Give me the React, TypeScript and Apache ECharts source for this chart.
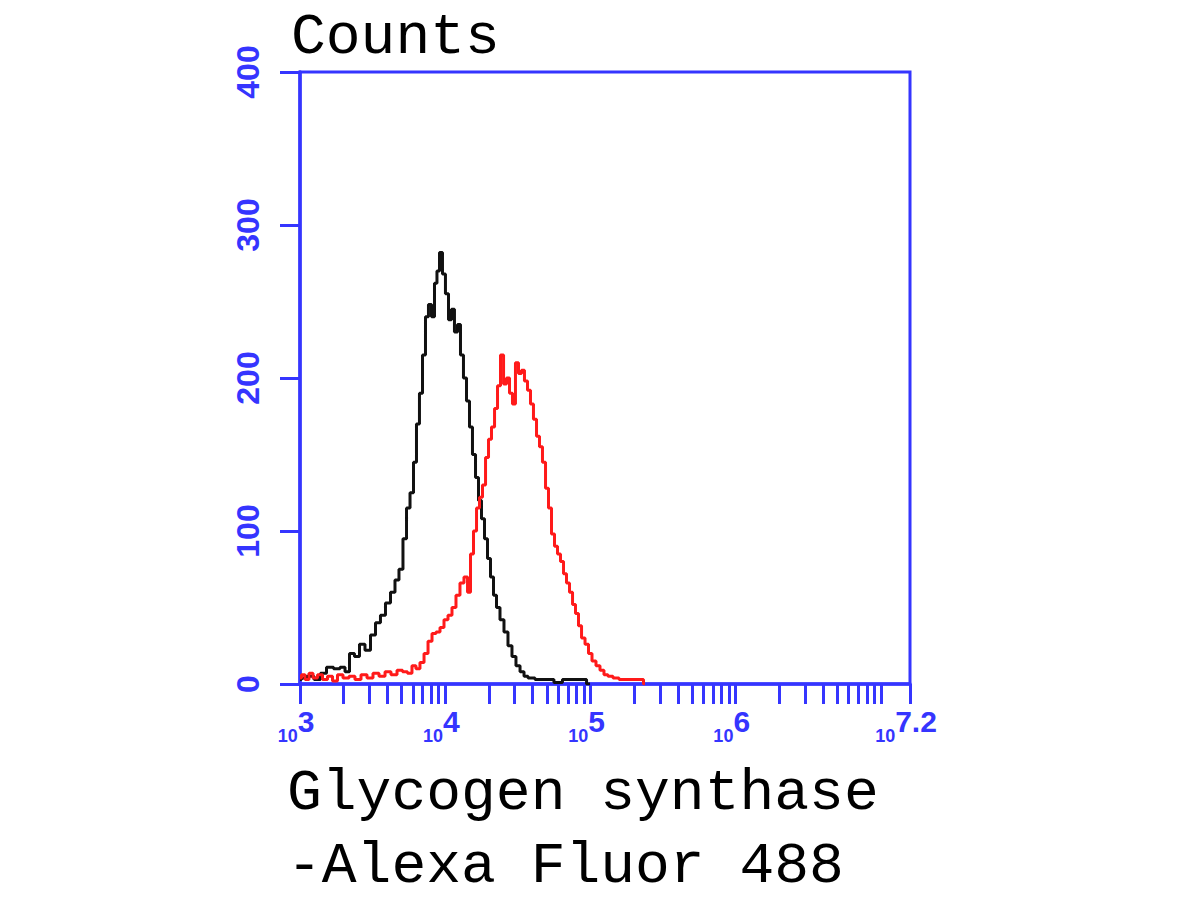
import React, { useEffect, useRef } from "react";
import * as echarts from "echarts";

// ---- data (x positions are log10 of fluorescence intensity) ----
const blackLogX = [
  3.0, 3.021, 3.069, 3.124, 3.158, 3.207, 3.255, 3.296, 3.324, 3.358, 3.392, 3.427, 3.468, 3.503,
  3.537, 3.571, 3.606, 3.64, 3.668, 3.695, 3.723, 3.744, 3.771, 3.792, 3.812, 3.833, 3.854,
  3.874, 3.895, 3.916, 3.936, 3.95, 3.971, 3.991, 4.012, 4.033, 4.053, 4.074, 4.095, 4.115,
  4.136, 4.157, 4.177, 4.198, 4.219, 4.239, 4.26, 4.281, 4.301, 4.322, 4.343, 4.363, 4.391,
  4.418, 4.446, 4.473, 4.501, 4.529, 4.556, 4.584, 4.652, 4.721, 4.776, 4.838, 4.893, 4.949,
  4.997,
];
const blackCounts = [
  3, 4, 5, 3, 7, 11, 10, 11, 8, 20, 18, 26, 22, 32,
  40, 45, 53, 60, 68, 75, 95, 115, 125, 145, 170, 190, 215,
  240, 248, 240, 262, 270, 282, 268, 255, 238, 245, 230, 235, 215,
  200, 185, 168, 150, 135, 120, 108, 95, 82, 70, 58, 50, 42,
  34, 25, 18, 12, 8, 5, 4, 3, 3, 1, 3, 3, 3,
  0,
];

const redLogX = [
  3.0, 3.021, 3.048, 3.076, 3.103, 3.138, 3.172, 3.207, 3.241, 3.275, 3.317, 3.358, 3.399, 3.441,
  3.482, 3.523, 3.565, 3.606, 3.647, 3.689, 3.723, 3.757, 3.785, 3.812, 3.84, 3.868, 3.895,
  3.923, 3.95, 3.978, 4.005, 4.033, 4.06, 4.088, 4.115, 4.143, 4.164, 4.184, 4.205, 4.226,
  4.246, 4.267, 4.288, 4.308, 4.329, 4.35, 4.37, 4.391, 4.412, 4.432, 4.453, 4.473, 4.494,
  4.515, 4.535, 4.556, 4.577, 4.597, 4.618, 4.639, 4.659, 4.68, 4.701, 4.721, 4.742, 4.763,
  4.783, 4.804, 4.825, 4.845, 4.866, 4.887, 4.907, 4.928, 4.949, 4.976, 4.997, 5.024, 5.052,
  5.079, 5.107, 5.134, 5.176, 5.217, 5.258, 5.307, 5.355, 5.375,
];
const redCounts = [
  4, 6, 3, 7, 4, 6, 3, 5, 2, 6, 4, 5, 3, 6,
  4, 7, 5, 8, 6, 9, 8, 7, 12, 10, 14, 20, 28,
  33, 34, 37, 42, 45, 50, 58, 66, 70, 60, 85, 100, 115,
  122, 130, 148, 160, 168, 180, 195, 215, 196, 200, 190, 183, 210,
  203, 205, 198, 192, 183, 173, 162, 155, 145, 128, 115, 98, 90,
  85, 80, 72, 66, 60, 52, 46, 38, 30, 26, 20, 15, 12,
  9, 6, 5, 4, 3, 3, 3, 3, 0,
];

// axis definitions
const xMinLog = 3;
const xMaxLog = 7.2;
const xLabelValues = [3, 4, 5, 6, 7.2];
const xLabelExponents = ["3", "4", "5", "6", "7.2"];
const xTickDecades = [3, 4, 5, 6];
const xTickMultipliers = [1, 2, 3, 4, 5, 6, 7, 8, 9];
const xExtraTicks = [7, 7.2];
const yMin = 0;
const yMax = 400;
const yInterval = 100;

const titleText = "Counts";
const xTitleLine1 = "Glycogen synthase";
const xTitleLine2 = "-Alexa Fluor 488";

const BLUE = "#3535ff";

export default function App() {
  const ref = useRef<HTMLDivElement>(null);

  useEffect(() => {
    if (!ref.current) return;
    const chart = echarts.init(ref.current, null, { renderer: "svg" });

    const xTickValues: number[] = [];
    xTickDecades.forEach((d) =>
      xTickMultipliers.forEach((m) => xTickValues.push(d + Math.log10(m)))
    );
    xExtraTicks.forEach((v) => xTickValues.push(v));

    const blackData = blackLogX.map((x, i) => [x, blackCounts[i]]);
    const redData = redLogX.map((x, i) => [x, redCounts[i]]);

    const monoTitle = {
      fontFamily: "Liberation Mono",
      fontSize: 58,
      fontWeight: "normal",
      color: "#000000",
      lineHeight: 56,
    };

    chart.setOption({
      animation: false,
      backgroundColor: "#ffffff",
      title: [
        { text: titleText, left: 286, top: 4, textStyle: monoTitle },
        { text: xTitleLine1, left: 287, top: 765, padding: 0, textStyle: monoTitle },
        { text: xTitleLine2, left: 287, top: 838, padding: 0, textStyle: monoTitle },
      ],
      grid: {
        left: 300,
        right: 290,
        top: 72,
        bottom: 216,
        show: true,
        borderColor: BLUE,
        borderWidth: 3,
        containLabel: false,
      },
      xAxis: {
        type: "value",
        min: xMinLog,
        max: xMaxLog,
        axisLine: { show: true, lineStyle: { color: BLUE, width: 3.5 } },
        axisTick: {
          show: true,
          customValues: xTickValues,
          length: 20,
          lineStyle: { color: BLUE, width: 3 },
        },
        splitLine: { show: false },
        axisLabel: {
          show: true,
          customValues: xLabelValues,
          margin: 22,
          formatter: (v: number) => {
            const idx = xLabelValues.findIndex((x) => Math.abs(x - v) < 1e-6);
            const e = idx >= 0 ? xLabelExponents[idx] : "";
            return "{b|10}{e|" + e + "}";
          },
          rich: {
            b: {
              fontFamily: "Liberation Sans",
              fontWeight: "bold",
              fontSize: 18,
              color: BLUE,
              lineHeight: 39,
              verticalAlign: "bottom",
            },
            e: {
              fontFamily: "Liberation Sans",
              fontWeight: "bold",
              fontSize: 30,
              color: BLUE,
              lineHeight: 30,
              verticalAlign: "top",
              padding: [0, 8, 0, 0],
            },
          },
        },
      },
      yAxis: {
        type: "value",
        min: yMin,
        max: yMax,
        interval: yInterval,
        axisLine: { show: true, lineStyle: { color: BLUE, width: 3.5 } },
        axisTick: { show: true, length: 20, lineStyle: { color: BLUE, width: 3 } },
        splitLine: { show: false },
        axisLabel: {
          rotate: 90,
          margin: 36,
          fontFamily: "Liberation Sans",
          fontWeight: "bold",
          fontSize: 32,
          color: BLUE,
        },
      },
      series: [
        {
          type: "line",
          data: blackData,
          step: "middle",
          showSymbol: false,
          lineStyle: { color: "#111111", width: 3 },
          z: 3,
        },
        {
          type: "line",
          data: redData,
          step: "middle",
          showSymbol: false,
          lineStyle: { color: "#ff1a1a", width: 3 },
          z: 4,
        },
      ],
    });

    return () => chart.dispose();
  }, []);

  return <div ref={ref} style={{ width: 1200, height: 900, margin: -8 }} />;
}
